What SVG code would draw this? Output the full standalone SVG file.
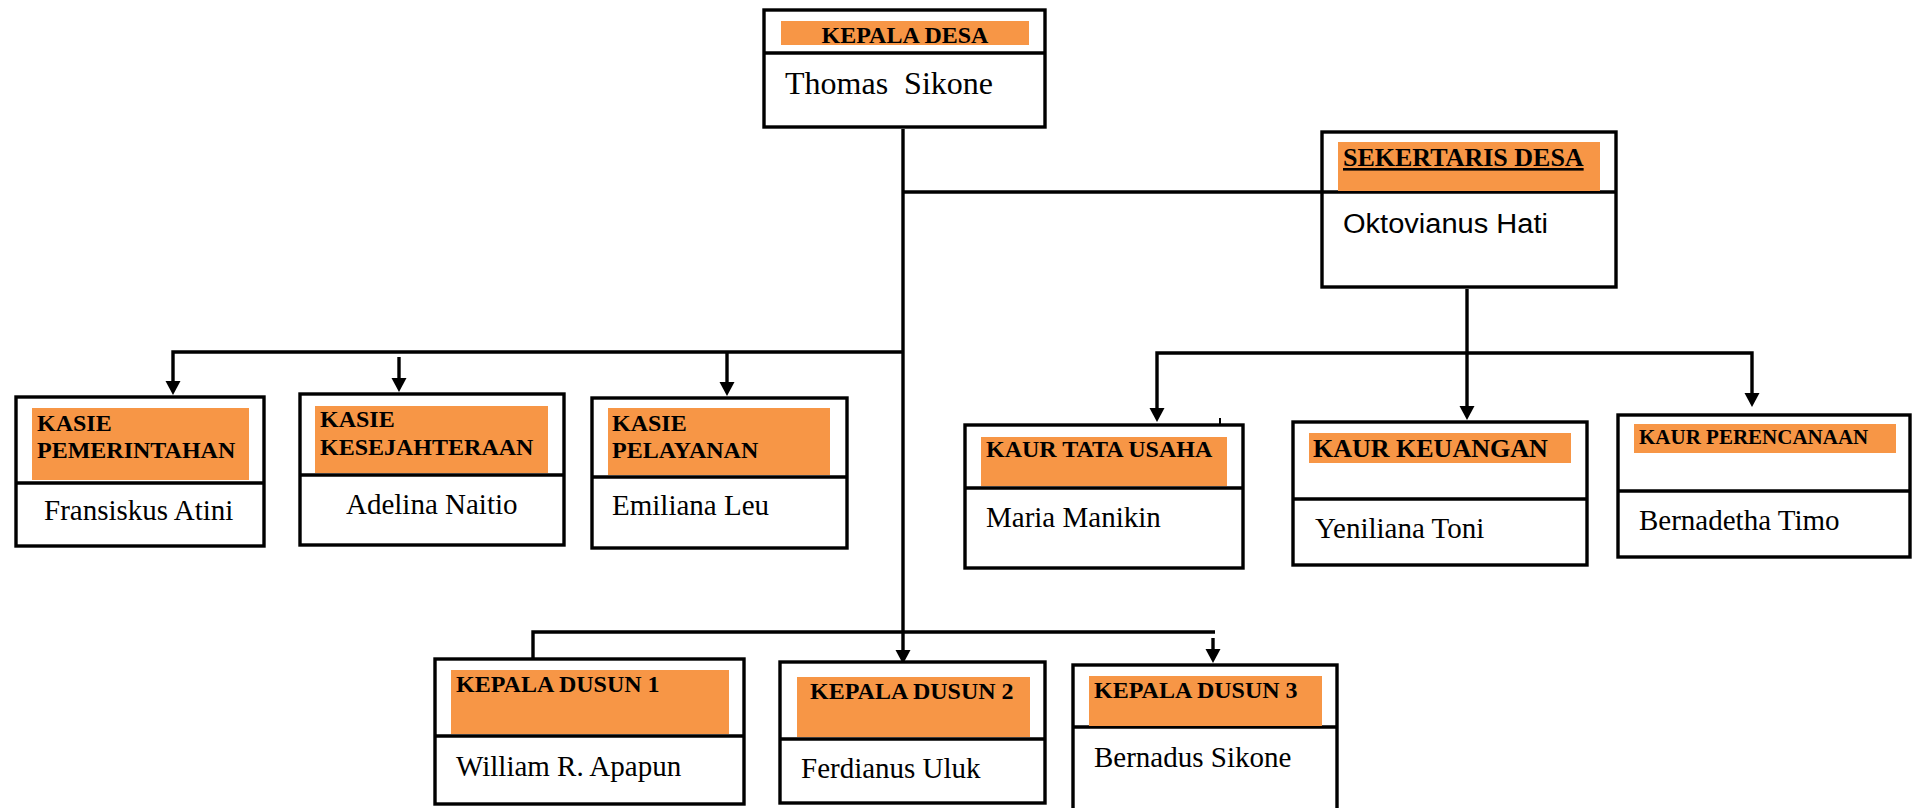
<svg xmlns="http://www.w3.org/2000/svg" width="1914" height="808" viewBox="0 0 1914 808">
<defs>
<style>
.box{fill:#ffffff;stroke:#000000;stroke-width:3.4}
.div{stroke:#000000;stroke-width:3.4}
.hl{fill:#F79646}
.hd{font-family:"Liberation Serif","Times New Roman",serif;font-weight:bold;font-size:24px;fill:#000000}
.nm{font-family:"Liberation Serif","Times New Roman",serif;font-size:29px;fill:#000000}
.cn{fill:none;stroke:#000000;stroke-width:3.4}
</style>
<marker id="arr" markerUnits="userSpaceOnUse" markerWidth="16" markerHeight="16" refX="10" refY="7.5" orient="auto">
<path d="M0,0 L14,7.5 L0,15 z" fill="#000000"/>
</marker>
</defs>
<rect width="1914" height="808" fill="#ffffff"/>

<g id="connectors">
<path class="cn" d="M903,129 V660" marker-end="url(#arr)"/>
<path class="cn" d="M903,192 H1321"/>
<path class="cn" d="M903,352 H173 V391" marker-end="url(#arr)"/>
<path class="cn" d="M399,357 V388" marker-end="url(#arr)"/>
<path class="cn" d="M727,352 V392" marker-end="url(#arr)"/>
<path class="cn" d="M1467,289 V416" marker-end="url(#arr)"/>
<path class="cn" d="M1467,353 H1157 V418" marker-end="url(#arr)"/>
<path class="cn" d="M1467,353 H1752 V403" marker-end="url(#arr)"/>
<path class="cn" d="M533,659 V632 H1215"/>
<path class="cn" d="M1213,638 V659" marker-end="url(#arr)"/>
<path d="M1220,418 V424" stroke="#000000" stroke-width="2"/>
</g>

<g id="kepala-desa">
<rect class="box" x="764" y="10" width="281" height="117"/>
<line class="div" x1="764" y1="53" x2="1045" y2="53"/>
<rect class="hl" x="781" y="21" width="248" height="24"/>
<text class="hd" x="905" y="43" text-anchor="middle">KEPALA DESA</text>
<text class="nm" x="785" y="94" style="font-size:32px" xml:space="preserve">Thomas  Sikone</text>
</g>

<g id="sekertaris-desa">
<rect class="box" x="1322" y="132" width="294" height="155"/>
<line class="div" x1="1322" y1="192" x2="1616" y2="192"/>
<rect class="hl" x="1338" y="142" width="262" height="49"/>
<text class="hd" x="1343" y="166" style="font-size:26px" text-decoration="underline">SEKERTARIS DESA</text>
<text x="1343" y="233" font-family="'Liberation Sans',Arial,sans-serif" font-size="27" textLength="205" lengthAdjust="spacingAndGlyphs">Oktovianus Hati</text>
</g>

<g id="kasie-pemerintahan">
<rect class="box" x="16" y="397" width="248" height="149"/>
<line class="div" x1="16" y1="483" x2="264" y2="483"/>
<rect class="hl" x="32" y="408" width="217" height="72"/>
<text class="hd" x="37" y="431">KASIE</text>
<text class="hd" x="37" y="458">PEMERINTAHAN</text>
<text class="nm" x="44" y="520">Fransiskus Atini</text>
</g>

<g id="kasie-kesejahteraan">
<rect class="box" x="300" y="394" width="264" height="151"/>
<line class="div" x1="300" y1="475" x2="564" y2="475"/>
<rect class="hl" x="315" y="406" width="233" height="67"/>
<text class="hd" x="320" y="427">KASIE</text>
<text class="hd" x="320" y="455">KESEJAHTERAAN</text>
<text class="nm" x="346" y="514">Adelina Naitio</text>
</g>

<g id="kasie-pelayanan">
<rect class="box" x="592" y="398" width="255" height="150"/>
<line class="div" x1="592" y1="477" x2="847" y2="477"/>
<rect class="hl" x="608" y="408" width="222" height="67"/>
<text class="hd" x="612" y="431">KASIE</text>
<text class="hd" x="612" y="458">PELAYANAN</text>
<text class="nm" x="612" y="515">Emiliana Leu</text>
</g>

<g id="kaur-tata-usaha">
<rect class="box" x="965" y="425" width="278" height="143"/>
<line class="div" x1="965" y1="488" x2="1243" y2="488"/>
<rect class="hl" x="981" y="437" width="246" height="49"/>
<text class="hd" x="986" y="457">KAUR TATA USAHA</text>
<text class="nm" x="986" y="527">Maria Manikin</text>
</g>

<g id="kaur-keuangan">
<rect class="box" x="1293" y="422" width="294" height="143"/>
<line class="div" x1="1293" y1="499" x2="1587" y2="499"/>
<rect class="hl" x="1309" y="433" width="262" height="30"/>
<text class="hd" x="1313" y="457" style="font-size:26px">KAUR KEUANGAN</text>
<text class="nm" x="1315" y="538">Yeniliana Toni</text>
</g>

<g id="kaur-perencanaan">
<rect class="box" x="1618" y="415" width="292" height="142"/>
<line class="div" x1="1618" y1="491" x2="1910" y2="491"/>
<rect class="hl" x="1634" y="424" width="262" height="29"/>
<text class="hd" x="1639" y="444" style="font-size:21px">KAUR PERENCANAAN</text>
<text class="nm" x="1639" y="530">Bernadetha Timo</text>
</g>

<g id="kepala-dusun-1">
<rect class="box" x="435" y="659" width="309" height="145"/>
<line class="div" x1="435" y1="736" x2="744" y2="736"/>
<rect class="hl" x="451" y="670" width="278" height="64"/>
<text class="hd" x="456" y="692">KEPALA DUSUN 1</text>
<text class="nm" x="456" y="776">William R. Apapun</text>
</g>

<g id="kepala-dusun-2">
<rect class="box" x="780" y="662" width="265" height="141"/>
<line class="div" x1="780" y1="739" x2="1045" y2="739"/>
<rect class="hl" x="797" y="677" width="233" height="60"/>
<text class="hd" x="810" y="699">KEPALA DUSUN 2</text>
<text class="nm" x="801" y="778">Ferdianus Uluk</text>
</g>

<g id="kepala-dusun-3">
<rect class="box" x="1073" y="665" width="264" height="160"/>
<line class="div" x1="1073" y1="727" x2="1337" y2="727"/>
<rect class="hl" x="1089" y="676" width="233" height="50"/>
<text class="hd" x="1094" y="698">KEPALA DUSUN 3</text>
<text class="nm" x="1094" y="767">Bernadus Sikone</text>
</g>
</svg>
